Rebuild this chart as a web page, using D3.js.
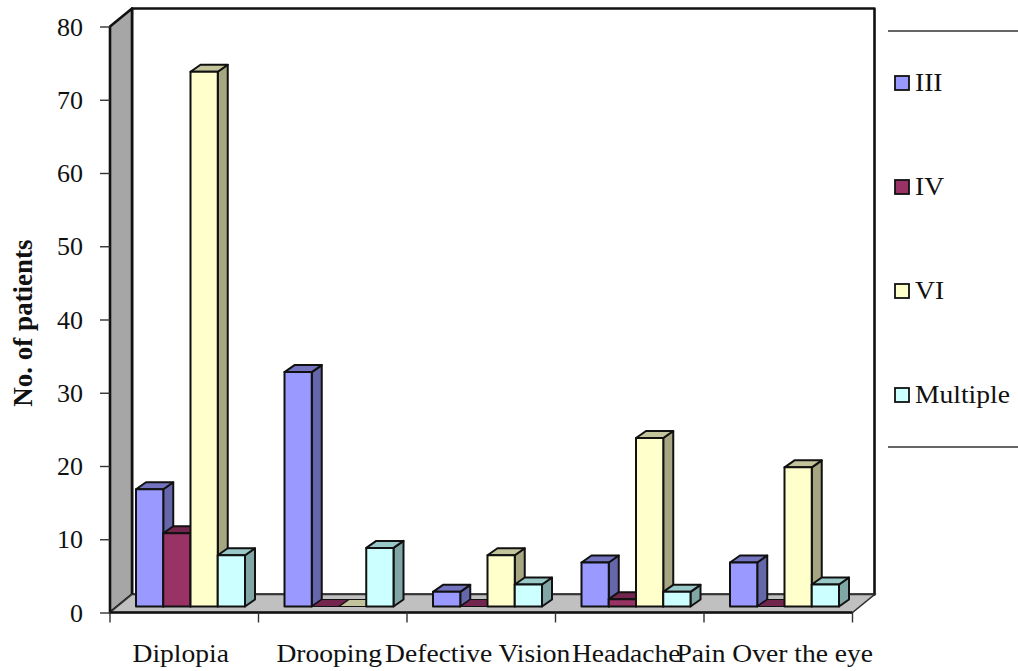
<!DOCTYPE html>
<html>
<head>
<meta charset="utf-8">
<script src="https://cdn.jsdelivr.net/npm/d3@7"></script>
<style>
  html, body { margin: 0; padding: 0; background: #fff; }
  svg { display: block; }
  text { font-family: "Liberation Serif", serif; fill: #111; }
</style>
</head>
<body>
<svg id="chart" width="1018" height="671"></svg>
<script>
const categories = ["Diplopia", "Drooping", "Defective Vision", "Headache", "Pain Over the eye"];
const seriesNames = ["III", "IV", "VI", "Multiple"];
const seriesIII = [16, 32, 2, 6, 6];
const seriesIV = [10, 0, 0, 1, 0];
const seriesVI = [73, 0, 7, 23, 19];
const seriesMultiple = [7, 8, 3, 2, 3];
const seriesValues = [seriesIII, seriesIV, seriesVI, seriesMultiple];
const yTicks = [0, 10, 20, 30, 40, 50, 60, 70, 80];
const frontColors = ["#9999ff", "#993366", "#ffffcc", "#ccffff"];
const topColors = ["#7373c0", "#73264d", "#c4c49c", "#99c8c8"];
const sideColors = ["#6666aa", "#662244", "#a6a682", "#80a6a6"];

const svg = d3.select("#chart");
const stretch = 1.06;   // category and legend type is set slightly wide
const fontSize = 26;
const plotLeft = 110, plotRight = 852.5, plotBottom = 612.5, plotTop = 26.5;
const wallDx = 22, wallDy = -18;   // depth of the chart box
const barShift = 6;                // bars sit this far into the box
const barDx = 10, barDy = -7;      // depth of a single bar

const x = d3.scaleBand().domain(categories).range([plotLeft, plotRight]);
const inner = d3.scaleBand().domain(seriesNames)
  .range([barShift + 20, barShift + 20 + 109]);
const y = d3.scaleLinear().domain([0, 80]).range([plotBottom, plotTop]);

const poly = pts => pts.map(p => p.join(",")).join(" ");
const boxLine = { stroke: "#111", "stroke-width": 2.6, "stroke-linejoin": "round" };
const applyAttrs = (sel, attrs) => { Object.entries(attrs).forEach(([k, v]) => sel.attr(k, v)); return sel; };

// Box: back wall, side wall and floor
const box = svg.append("g");
applyAttrs(box.append("polygon")
  .attr("points", poly([[plotLeft + wallDx, plotTop + wallDy], [plotRight + wallDx, plotTop + wallDy],
    [plotRight + wallDx, plotBottom + wallDy], [plotLeft + wallDx, plotBottom + wallDy]]))
  .attr("fill", "#fff"), boxLine);
applyAttrs(box.append("polygon")
  .attr("points", poly([[plotLeft, plotTop], [plotLeft + wallDx, plotTop + wallDy],
    [plotLeft + wallDx, plotBottom + wallDy], [plotLeft, plotBottom]]))
  .attr("fill", "#a6a6a6"), boxLine);
box.append("polygon")
  .attr("points", poly([[plotLeft, plotBottom], [plotLeft + wallDx, plotBottom + wallDy],
    [plotRight + wallDx, plotBottom + wallDy], [plotRight, plotBottom]]))
  .attr("fill", "#c0c0c0").attr("stroke", "#333").attr("stroke-width", 1.6);
applyAttrs(box.append("line")
  .attr("x1", plotLeft).attr("x2", plotRight)
  .attr("y1", plotBottom).attr("y2", plotBottom), boxLine);

// Three-faced bars, painted left to right so that nearer faces overlap
const barGroups = svg.append("g").selectAll("g")
  .data(categories).join("g");
barGroups.each(function (cat, ci) {
  const g = d3.select(this);
  seriesNames.forEach((name, si) => {
    const v = seriesValues[si][ci];
    const x0 = x(cat) + inner(name);
    const x1 = x0 + inner.bandwidth();
    const yBase = y(0) - barShift;
    const yTop = y(v) - barShift;
    const faceLine = { stroke: "#111", "stroke-width": 2, "stroke-linejoin": "round" };
    if (v > 0) {
      applyAttrs(g.append("polygon")
        .attr("points", poly([[x1, yTop], [x1 + barDx, yTop + barDy], [x1 + barDx, yBase + barDy], [x1, yBase]]))
        .attr("fill", sideColors[si]), faceLine);
    }
    applyAttrs(g.append("polygon")
      .attr("points", poly([[x0, yTop], [x0 + barDx, yTop + barDy], [x1 + barDx, yTop + barDy], [x1, yTop]]))
      .attr("fill", topColors[si]), v > 0 ? faceLine : { stroke: "#111", "stroke-width": 1.2 });
    if (v > 0) {
      applyAttrs(g.append("rect")
        .attr("x", x0).attr("y", yTop)
        .attr("width", x1 - x0).attr("height", yBase - yTop)
        .attr("fill", frontColors[si]), faceLine);
    }
  });
});

// Value axis
const yAxis = svg.append("g").attr("transform", `translate(${plotLeft},0)`)
  .call(d3.axisLeft(y).tickValues(yTicks).tickSize(10).tickPadding(0));
yAxis.select(".domain").remove();
yAxis.selectAll("line").attr("stroke", "#333").attr("stroke-width", 1.4);
yAxis.selectAll("text")
  .attr("font-size", fontSize).attr("font-family", "Liberation Serif").attr("fill", "#111")
  .attr("x", -27).attr("dy", 8.5).attr("text-anchor", "end");

// Category axis: ticks mark the band edges, labels sit under the bands
const bandEdges = categories.map(c => x(c)).concat(plotRight);
svg.append("g").selectAll("line").data(bandEdges).join("line")
  .attr("x1", d => d).attr("x2", d => d)
  .attr("y1", plotBottom).attr("y2", plotBottom + 10)
  .attr("stroke", "#333").attr("stroke-width", 1.4);
svg.append("g").selectAll("text").data(categories).join("text")
  .attr("text-anchor", "middle").attr("font-size", fontSize)
  .attr("transform", d => `translate(${x(d) + x.bandwidth() / 2 - 3.5},662) scale(${stretch},1)`)
  .text(d => d);

// Axis title
svg.append("text")
  .attr("text-anchor", "middle").attr("font-size", 27).attr("font-weight", "bold")
  .attr("transform", "translate(32,323) rotate(-90)")
  .text("No. of patients");

// Legend between its two rules
const legend = svg.append("g");
legend.selectAll("line").data([31, 447]).join("line")
  .attr("x1", 888).attr("x2", 1018)
  .attr("y1", d => d).attr("y2", d => d)
  .attr("stroke", "#333").attr("stroke-width", 1.4);
const legendY = d3.scalePoint().domain(seriesNames).range([82, 394]);
const entries = legend.selectAll("g").data(seriesNames).join("g")
  .attr("transform", d => `translate(0,${legendY(d)})`);
entries.append("rect")
  .attr("x", 895).attr("y", -6).attr("width", 14).attr("height", 14)
  .attr("fill", (d, i) => frontColors[i])
  .attr("stroke", "#111").attr("stroke-width", 1.8);
entries.append("text")
  .attr("font-size", fontSize)
  .attr("transform", `translate(915,9) scale(${stretch},1)`)
  .text(d => d);
</script>
</body>
</html>
